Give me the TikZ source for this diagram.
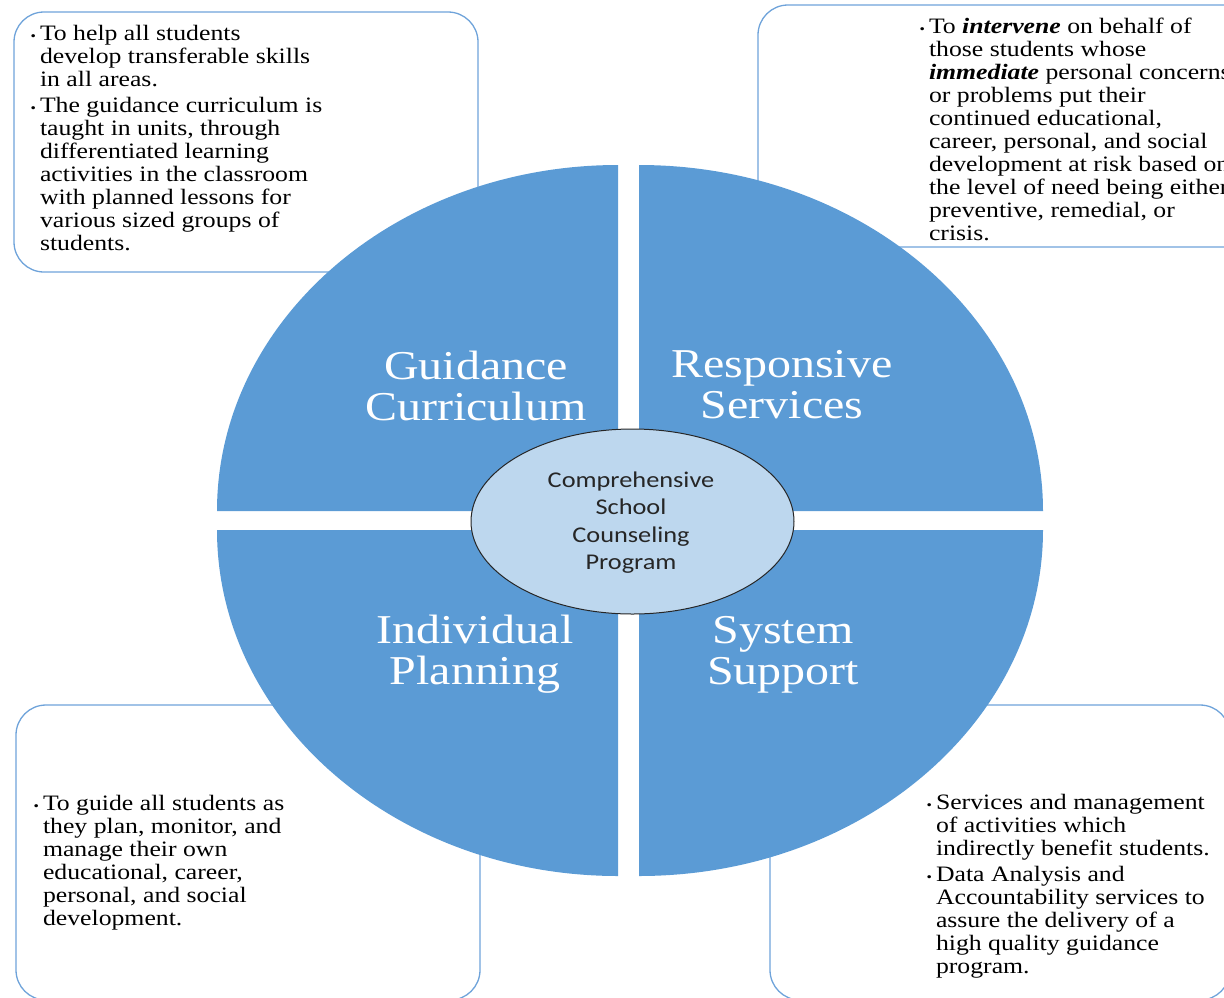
\documentclass[tikz,border=0pt]{standalone}
\usepackage{fontspec}
\setmainfont{Liberation Serif}[FakeStretch=1.17]
\newfontfamily\cfont{Carlito}[FakeStretch=1.17]
\definecolor{quad}{HTML}{5B9BD5}
\definecolor{ell}{HTML}{BDD7EE}
\definecolor{boxc}{HTML}{6FA3DA}
\definecolor{ctext}{HTML}{262626}
\newcommand{\bul}{\leavevmode\llap{{\fontsize{13}{13}\selectfont\textbullet}\hspace{4pt}}}
\newcommand{\smalltxt}{\fontsize{22}{23}\selectfont}
\newcommand{\bigtxt}{\fontsize{41}{41.5}\selectfont}
\begin{document}
\begin{tikzpicture}[x=1pt,y=-1pt,
  boxline/.style={draw=boxc, line width=1.3pt, rounded corners=30pt},
  quadfill/.style={fill=quad},
  txt/.style={inner sep=0pt, outer sep=0pt, anchor=base west, text=black},
  lbl/.style={inner sep=0pt, outer sep=0pt, anchor=base, text=white},
  ]
\useasboundingbox (0,0) rectangle (1224,997);
\clip (0,0) rectangle (1224,997);
% boxes
\draw[boxline] (14,12) rectangle (478,272);
\draw[boxline] (758,5) rectangle (1300,247);
\draw[boxline] (16,705) rectangle (480,1000);
\draw[boxline] (770,705) rectangle (1230,1000);
% quadrants
\fill[quadfill] (618,511) -- (217,511) arc[start angle=180, end angle=90, x radius=401pt, y radius=346pt] -- cycle;
\fill[quadfill] (639,511) -- (639,165) arc[start angle=90, end angle=0, x radius=404pt, y radius=346pt] -- cycle;
\fill[quadfill] (618,530) -- (217,530) arc[start angle=180, end angle=270, x radius=401pt, y radius=346pt] -- cycle;
\fill[quadfill] (639,530) -- (1043,530) arc[start angle=0, end angle=-90, x radius=404pt, y radius=346pt] -- cycle;
% centre ellipse
\draw[fill=ell, draw=black!85, line width=1pt] (632.5,521.5) ellipse [x radius=161.5pt, y radius=92.5pt];
\node[inner sep=0pt, anchor=base, text=ctext] (centre) at (631,487)
  {\parbox[t]{260pt}{\centering\cfont\fontsize{22.5}{27.5}\selectfont Comprehensive\\School\\Counseling\\Program}};
% quadrant labels
\node[lbl] (gc) at (476,379) {\parbox[t]{300pt}{\centering\bigtxt Guidance\\Curriculum}};
\node[lbl] (rs) at (782,377) {\parbox[t]{300pt}{\centering\bigtxt Responsive\\Services}};
\node[lbl] (ip) at (475,643) {\parbox[t]{300pt}{\centering\bigtxt Individual\\Planning}};
\node[lbl] (ss) at (783,643) {\parbox[t]{300pt}{\centering\bigtxt System\\Support}};
% box texts
\node[txt] (tltext) at (40,40) {\parbox[t]{430pt}{\smalltxt
\bul To help all students\\
develop transferable skills\\
in all areas.\par\vspace{3.5pt}
\bul The guidance curriculum is\\
taught in units, through\\
differentiated learning\\
activities in the classroom\\
with planned lessons for\\
various sized groups of\\
students.}};
\node[txt] (trtext) at (929,33) {\parbox[t]{400pt}{\smalltxt
\bul To \textbf{\textit{intervene}} on behalf of\\
those students whose\\
\textbf{\textit{immediate}} personal concerns\\
or problems put their\\
continued educational,\\
career, personal, and social\\
development at risk based on\\
the level of need being either\\
preventive, remedial, or\\
crisis.}};
\node[txt] (bltext) at (43,810) {\parbox[t]{430pt}{\smalltxt
\bul To guide all students as\\
they plan, monitor, and\\
manage their own\\
educational, career,\\
personal, and social\\
development.}};
\node[txt] (brtext) at (936,809) {\parbox[t]{400pt}{\smalltxt
\bul Services and management\\
of activities which\\
indirectly benefit students.\par\vspace{3pt}
\bul Data Analysis and\\
Accountability services to\\
assure the delivery of a\\
high quality guidance\\
program.}};
\end{tikzpicture}
\end{document}
